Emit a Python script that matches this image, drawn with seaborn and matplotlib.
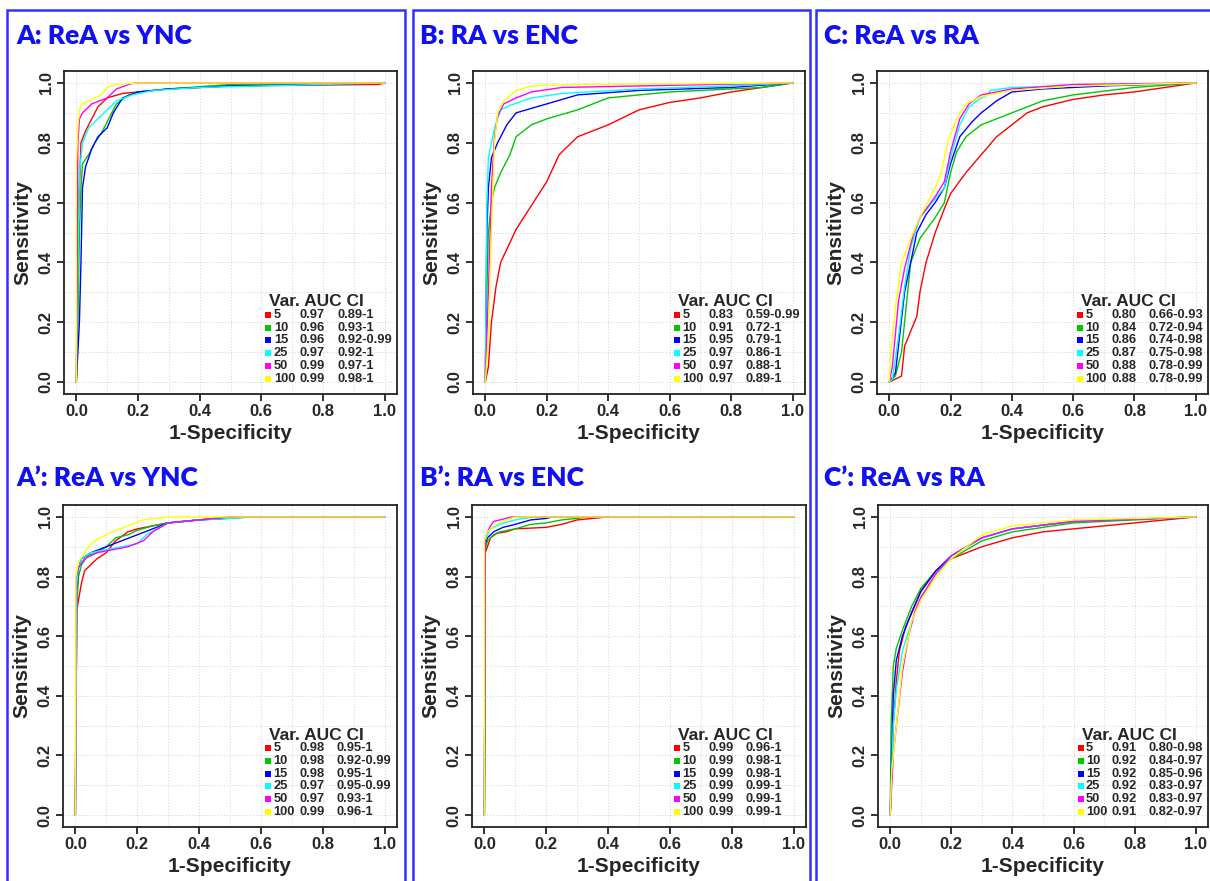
import numpy as np
import pandas as pd
import matplotlib
matplotlib.use("Agg")
import matplotlib.pyplot as plt
from matplotlib.patches import Rectangle
import seaborn as sns

# ---------------- data ----------------
var_levels = [5, 10, 15, 25, 50, 100]
line_colors = ["#FF0000", "#00C800", "#0000FF", "#00FFFF", "#FF00FF", "#FFFF00"]

titles = ["A: ReA vs YNC", "B: RA vs ENC", "C: ReA vs RA",
          "A\u2019: ReA vs YNC", "B\u2019: RA vs ENC", "C\u2019: ReA vs RA"]

auc_A = ["0.97", "0.96", "0.96", "0.97", "0.99", "0.99"]
ci_A = ["0.89-1", "0.93-1", "0.92-0.99", "0.92-1", "0.97-1", "0.98-1"]
auc_B = ["0.83", "0.91", "0.95", "0.97", "0.97", "0.97"]
ci_B = ["0.59-0.99", "0.72-1", "0.79-1", "0.86-1", "0.88-1", "0.89-1"]
auc_C = ["0.80", "0.84", "0.86", "0.87", "0.88", "0.88"]
ci_C = ["0.66-0.93", "0.72-0.94", "0.74-0.98", "0.75-0.98", "0.78-0.99", "0.78-0.99"]
auc_A2 = ["0.98", "0.98", "0.98", "0.97", "0.97", "0.99"]
ci_A2 = ["0.95-1", "0.92-0.99", "0.95-1", "0.95-0.99", "0.93-1", "0.96-1"]
auc_B2 = ["0.99", "0.99", "0.99", "0.99", "0.99", "0.99"]
ci_B2 = ["0.96-1", "0.98-1", "0.98-1", "0.99-1", "0.99-1", "0.99-1"]
auc_C2 = ["0.91", "0.92", "0.92", "0.92", "0.92", "0.91"]
ci_C2 = ["0.80-0.98", "0.84-0.97", "0.85-0.96", "0.83-0.97", "0.83-0.97", "0.82-0.97"]

# ROC curves: var -> (1-specificity, sensitivity)
roc_A = {
    5: ([0, 0.005, 0.01, 0.015, 0.03, 0.05, 0.07, 0.1, 0.15, 0.2, 0.3, 0.5, 0.98, 1],
        [0, 0.5, 0.65, 0.8, 0.84, 0.88, 0.92, 0.95, 0.965, 0.97, 0.98, 0.99, 0.995, 1]),
    10: ([0, 0.005, 0.01, 0.015, 0.02, 0.04, 0.06, 0.08, 0.1, 0.13, 0.17, 0.2, 0.3, 0.5, 1],
         [0, 0.2, 0.5, 0.65, 0.73, 0.76, 0.8, 0.83, 0.87, 0.93, 0.96, 0.97, 0.98, 0.995, 1]),
    15: ([0, 0.01, 0.015, 0.02, 0.03, 0.05, 0.07, 0.1, 0.12, 0.15, 0.2, 0.3, 0.5, 0.8, 1],
         [0, 0.2, 0.4, 0.65, 0.72, 0.78, 0.82, 0.85, 0.9, 0.95, 0.97, 0.98, 0.99, 0.995, 1]),
    25: ([0, 0.005, 0.01, 0.02, 0.04, 0.07, 0.1, 0.13, 0.18, 0.25, 0.4, 0.6, 0.8, 1],
         [0, 0.4, 0.7, 0.8, 0.85, 0.88, 0.91, 0.94, 0.96, 0.975, 0.985, 0.99, 0.995, 1]),
    50: ([0, 0.005, 0.01, 0.02, 0.05, 0.1, 0.13, 0.17, 0.19, 1],
         [0, 0.8, 0.88, 0.9, 0.93, 0.95, 0.98, 0.995, 1, 1]),
    100: ([0, 0, 0.005, 0.01, 0.02, 0.05, 0.08, 0.1, 0.13, 0.2, 1],
          [0, 0.73, 0.85, 0.91, 0.93, 0.945, 0.96, 0.985, 0.995, 1, 1]),
}
roc_B = {
    5: ([0, 0.01, 0.02, 0.035, 0.05, 0.1, 0.15, 0.2, 0.24, 0.3, 0.4, 0.5, 0.6, 0.7, 0.8, 0.9, 1],
        [0, 0.05, 0.2, 0.32, 0.4, 0.51, 0.59, 0.67, 0.76, 0.82, 0.86, 0.91, 0.935, 0.95, 0.97, 0.985, 1]),
    10: ([0, 0.005, 0.01, 0.02, 0.03, 0.05, 0.08, 0.1, 0.15, 0.2, 0.3, 0.4, 0.6, 0.9, 1],
         [0, 0.3, 0.5, 0.6, 0.65, 0.7, 0.76, 0.82, 0.86, 0.88, 0.91, 0.95, 0.97, 0.985, 1]),
    15: ([0, 0.005, 0.01, 0.02, 0.04, 0.07, 0.1, 0.2, 0.3, 0.5, 0.8, 1],
         [0, 0.5, 0.65, 0.75, 0.8, 0.86, 0.9, 0.93, 0.96, 0.975, 0.985, 1]),
    25: ([0, 0.005, 0.01, 0.03, 0.05, 0.08, 0.15, 0.25, 0.5, 0.8, 1],
         [0, 0.6, 0.75, 0.85, 0.91, 0.925, 0.95, 0.965, 0.98, 0.99, 1]),
    50: ([0, 0.01, 0.02, 0.03, 0.04, 0.06, 0.1, 0.15, 0.25, 0.5, 1],
         [0, 0.3, 0.65, 0.82, 0.89, 0.93, 0.95, 0.97, 0.985, 0.99, 1]),
    100: ([0, 0.01, 0.02, 0.03, 0.04, 0.06, 0.1, 0.15, 0.3, 1],
          [0, 0.15, 0.5, 0.8, 0.9, 0.94, 0.975, 0.99, 0.995, 1]),
}
roc_C = {
    5: ([0, 0.04, 0.05, 0.07, 0.09, 0.1, 0.12, 0.15, 0.18, 0.2, 0.25, 0.3, 0.35, 0.4, 0.45, 0.5, 0.6, 0.7, 0.8, 0.9, 1],
        [0, 0.02, 0.12, 0.17, 0.22, 0.3, 0.4, 0.5, 0.58, 0.63, 0.7, 0.76, 0.82, 0.86, 0.9, 0.92, 0.945, 0.96, 0.97, 0.985, 1]),
    10: ([0, 0.02, 0.04, 0.05, 0.06, 0.07, 0.1, 0.15, 0.18, 0.2, 0.22, 0.25, 0.3, 0.4, 0.5, 0.6, 0.8, 1],
         [0, 0.02, 0.1, 0.2, 0.3, 0.4, 0.48, 0.55, 0.6, 0.7, 0.77, 0.82, 0.86, 0.9, 0.94, 0.96, 0.985, 1]),
    15: ([0, 0.02, 0.03, 0.05, 0.07, 0.09, 0.12, 0.15, 0.18, 0.2, 0.23, 0.27, 0.3, 0.35, 0.4, 0.5, 0.7, 1],
         [0, 0.03, 0.12, 0.3, 0.4, 0.5, 0.56, 0.6, 0.65, 0.73, 0.82, 0.87, 0.9, 0.94, 0.97, 0.98, 0.99, 1]),
    25: ([0, 0.01, 0.03, 0.05, 0.07, 0.1, 0.14, 0.18, 0.2, 0.23, 0.26, 0.3, 0.32, 0.33, 0.4, 0.6, 1],
         [0, 0.01, 0.15, 0.32, 0.45, 0.55, 0.6, 0.65, 0.75, 0.86, 0.92, 0.95, 0.96, 0.975, 0.985, 0.99, 1]),
    50: ([0, 0.01, 0.03, 0.05, 0.08, 0.1, 0.15, 0.18, 0.2, 0.23, 0.26, 0.3, 0.4, 0.6, 1],
         [0, 0.05, 0.27, 0.38, 0.5, 0.55, 0.62, 0.67, 0.77, 0.88, 0.93, 0.96, 0.98, 0.995, 1]),
    100: ([0, 0.005, 0.02, 0.04, 0.07, 0.1, 0.15, 0.17, 0.19, 0.22, 0.25, 0.3, 0.4, 0.6, 1],
          [0, 0.1, 0.25, 0.4, 0.48, 0.55, 0.65, 0.7, 0.8, 0.88, 0.93, 0.955, 0.975, 0.99, 1]),
}
roc_A2 = {
    5: ([0, 0.003, 0.01, 0.02, 0.03, 0.05, 0.07, 0.1, 0.13, 0.17, 0.2, 0.25, 0.3, 0.4, 0.5, 1],
        [0, 0.68, 0.72, 0.78, 0.82, 0.84, 0.86, 0.88, 0.92, 0.95, 0.96, 0.97, 0.98, 0.99, 1, 1]),
    10: ([0, 0.002, 0.005, 0.01, 0.02, 0.04, 0.07, 0.1, 0.13, 0.17, 0.2, 0.25, 0.3, 0.4, 0.5, 0.57, 1],
         [0, 0.37, 0.7, 0.8, 0.84, 0.87, 0.88, 0.9, 0.93, 0.94, 0.955, 0.97, 0.98, 0.99, 0.995, 1, 1]),
    15: ([0, 0.005, 0.01, 0.02, 0.05, 0.1, 0.15, 0.2, 0.25, 0.3, 0.4, 0.48, 0.5, 1],
         [0, 0.75, 0.83, 0.86, 0.88, 0.9, 0.92, 0.94, 0.96, 0.98, 0.99, 0.995, 1, 1]),
    25: ([0, 0.005, 0.01, 0.02, 0.05, 0.1, 0.15, 0.2, 0.23, 0.3, 0.4, 0.5, 0.57, 1],
         [0, 0.78, 0.83, 0.86, 0.88, 0.89, 0.9, 0.91, 0.94, 0.98, 0.99, 0.995, 1, 1]),
    50: ([0, 0.003, 0.01, 0.03, 0.07, 0.12, 0.17, 0.22, 0.25, 0.3, 0.4, 0.5, 1],
         [0, 0.8, 0.83, 0.86, 0.88, 0.89, 0.9, 0.92, 0.95, 0.98, 0.99, 1, 1]),
    100: ([0, 0.002, 0.01, 0.03, 0.05, 0.08, 0.12, 0.17, 0.22, 0.3, 1],
          [0, 0.8, 0.85, 0.88, 0.91, 0.93, 0.95, 0.97, 0.99, 1, 1]),
}
roc_B2 = {
    5: ([0, 0.003, 0.01, 0.02, 0.04, 0.07, 0.1, 0.2, 0.25, 0.3, 0.35, 0.4, 1],
        [0, 0.88, 0.9, 0.93, 0.945, 0.95, 0.96, 0.965, 0.975, 0.99, 0.995, 1, 1]),
    10: ([0, 0.003, 0.01, 0.03, 0.05, 0.1, 0.15, 0.2, 0.25, 0.3, 0.33, 1],
         [0, 0.89, 0.92, 0.94, 0.95, 0.96, 0.975, 0.98, 0.99, 0.995, 1, 1]),
    15: ([0, 0.003, 0.01, 0.03, 0.06, 0.1, 0.15, 0.2, 0.22, 1],
         [0, 0.91, 0.93, 0.95, 0.965, 0.975, 0.99, 0.995, 1, 1]),
    25: ([0, 0.003, 0.01, 0.02, 0.05, 0.08, 0.1, 0.13, 0.16, 1],
         [0, 0.92, 0.94, 0.96, 0.975, 0.985, 0.99, 0.995, 1, 1]),
    50: ([0, 0.003, 0.01, 0.02, 0.03, 0.05, 0.07, 0.09, 1],
         [0, 0.93, 0.95, 0.97, 0.985, 0.99, 0.995, 1, 1]),
    100: ([0, 0, 0.01, 0.03, 0.06, 0.1, 1],
          [0, 0.92, 0.95, 0.97, 0.985, 1, 1]),
}
roc_C2 = {
    5: ([0, 0.005, 0.01, 0.02, 0.03, 0.05, 0.08, 0.1, 0.15, 0.2, 0.3, 0.4, 0.5, 0.6, 0.8, 1],
        [0, 0.15, 0.3, 0.45, 0.55, 0.63, 0.7, 0.75, 0.82, 0.86, 0.9, 0.93, 0.95, 0.96, 0.98, 1]),
    10: ([0, 0.003, 0.01, 0.02, 0.04, 0.07, 0.1, 0.15, 0.2, 0.3, 0.4, 0.6, 0.8, 1],
         [0, 0.3, 0.5, 0.56, 0.62, 0.7, 0.76, 0.82, 0.86, 0.92, 0.95, 0.98, 0.99, 1]),
    15: ([0, 0.005, 0.01, 0.02, 0.04, 0.07, 0.1, 0.15, 0.2, 0.3, 0.4, 0.6, 1],
         [0, 0.2, 0.4, 0.52, 0.6, 0.68, 0.75, 0.82, 0.87, 0.93, 0.96, 0.985, 1]),
    25: ([0, 0.005, 0.01, 0.02, 0.04, 0.07, 0.1, 0.15, 0.2, 0.3, 0.4, 0.6, 1],
         [0, 0.15, 0.3, 0.42, 0.55, 0.65, 0.73, 0.8, 0.87, 0.93, 0.96, 0.985, 1]),
    50: ([0, 0.01, 0.02, 0.04, 0.06, 0.08, 0.1, 0.15, 0.2, 0.3, 0.4, 0.6, 1],
         [0, 0.2, 0.3, 0.48, 0.6, 0.68, 0.73, 0.81, 0.87, 0.93, 0.96, 0.985, 1]),
    100: ([0, 0.005, 0.02, 0.04, 0.07, 0.1, 0.15, 0.2, 0.3, 0.4, 0.6, 1],
          [0, 0.15, 0.3, 0.5, 0.65, 0.72, 0.8, 0.86, 0.94, 0.97, 0.99, 1]),
}

panels = [
    (roc_A, auc_A, ci_A), (roc_B, auc_B, ci_B), (roc_C, auc_C, ci_C),
    (roc_A2, auc_A2, ci_A2), (roc_B2, auc_B2, ci_B2), (roc_C2, auc_C2, ci_C2),
]

# ---------------- layout ----------------
W, H = 1210, 881
sns.set_style("white")
plt.rcParams["font.family"] = ["Liberation Sans", "DejaVu Sans"]

fig = plt.figure(figsize=(W / 100, H / 100), dpi=100)

# axes boxes in pixels: left, top, right, bottom
boxes = [
    (64, 71, 397, 394), (473, 71, 805, 394), (877, 71, 1208, 394),
    (63, 505, 397, 827), (472, 505, 806, 827), (878, 505, 1208, 827),
]
title_pos = [(16, 36), (420, 36), (824, 36), (16, 478), (420, 478), (824, 478)]

# blue column frames
frame_color = "#3030FF"
for (x0, x1) in [(7, 405), (413, 810), (816, 1230)]:
    fig.patches.append(Rectangle((x0 / W, -0.05), (x1 - x0) / W, 1 - 10 / H + 0.05,
                                 transform=fig.transFigure, fill=False,
                                 edgecolor=frame_color, linewidth=1.8, zorder=0))

for i, ((roc, aucs, cis), box, tp) in enumerate(zip(panels, boxes, title_pos)):
    l, t, r, b = box
    ax = fig.add_axes([l / W, 1 - b / H, (r - l) / W, (b - t) / H])

    rows = []
    for k, v in enumerate(var_levels):
        fpr, tpr = roc[v]
        for j, (xv, yv) in enumerate(zip(fpr, tpr)):
            rows.append({"fpr": xv, "tpr": yv, "var": str(v), "order": j})
    df = pd.DataFrame(rows)
    sns.lineplot(data=df, x="fpr", y="tpr", hue="var",
                 hue_order=[str(v) for v in var_levels], palette=line_colors,
                 sort=False, estimator=None, legend=False, linewidth=1.0, ax=ax,
                 zorder=3)

    ax.set_xlim(-0.04, 1.04)
    ax.set_ylim(-0.04, 1.04)
    ticks = [0.0, 0.2, 0.4, 0.6, 0.8, 1.0]
    ax.set_xticks(ticks)
    ax.set_yticks(ticks)
    ax.set_xticks(np.arange(0.1, 1.0, 0.2), minor=True)
    ax.set_yticks(np.arange(0.1, 1.0, 0.2), minor=True)
    ax.set_xticklabels([f"{v:.1f}" for v in ticks], fontsize=12, fontweight="bold")
    ax.set_yticklabels([f"{v:.1f}" for v in ticks], fontsize=12, fontweight="bold",
                       rotation=90, va="center")
    ax.tick_params(which="major", direction="out", length=5, width=1.3,
                   color="#222222", pad=2.5, bottom=True, left=True)
    ax.tick_params(which="minor", length=0)
    ax.grid(True, which="both", linestyle=(0, (1, 2)), color="#d0d0d0", linewidth=0.7)
    ax.set_axisbelow(True)
    for s in ax.spines.values():
        s.set_color("#222222")
        s.set_linewidth(1.3)

    ax.set_xlabel("1-Specificity", fontsize=15, fontweight="bold", va="center")
    ax.set_ylabel("Sensitivity", fontsize=15, fontweight="bold", va="center")
    ax.xaxis.set_label_coords(0.5, -(39 / (b - t)))
    ax.yaxis.set_label_coords(-(41 / (r - l)), 0.5)

    # legend block
    ax.text(0.617, 0.285, "Var. AUC CI", transform=ax.transAxes, fontsize=12.5,
            fontweight="bold", ha="left", va="center", zorder=5)
    for k, v in enumerate(var_levels):
        yy = 0.245 - k * 0.0396
        ax.scatter([0.614], [yy], transform=ax.transAxes, marker="s", s=14,
                   color=line_colors[k], zorder=5, clip_on=False, linewidths=0)
        ax.text(0.630, yy, str(v), transform=ax.transAxes, fontsize=9.3,
                fontweight="bold", ha="left", va="center", zorder=5)
        ax.text(0.708, yy, aucs[k], transform=ax.transAxes, fontsize=9.3,
                fontweight="bold", ha="left", va="center", zorder=5)
        ax.text(0.820, yy, cis[k], transform=ax.transAxes, fontsize=9.3,
                fontweight="bold", ha="left", va="center", zorder=5)

    fig.text(tp[0] / W, 1 - tp[1] / H, titles[i], fontsize=19, fontweight="heavy",
             color="#1010F0", ha="left", va="center", family=["Lato", "DejaVu Sans"])

fig.savefig("out.png", dpi=100)
